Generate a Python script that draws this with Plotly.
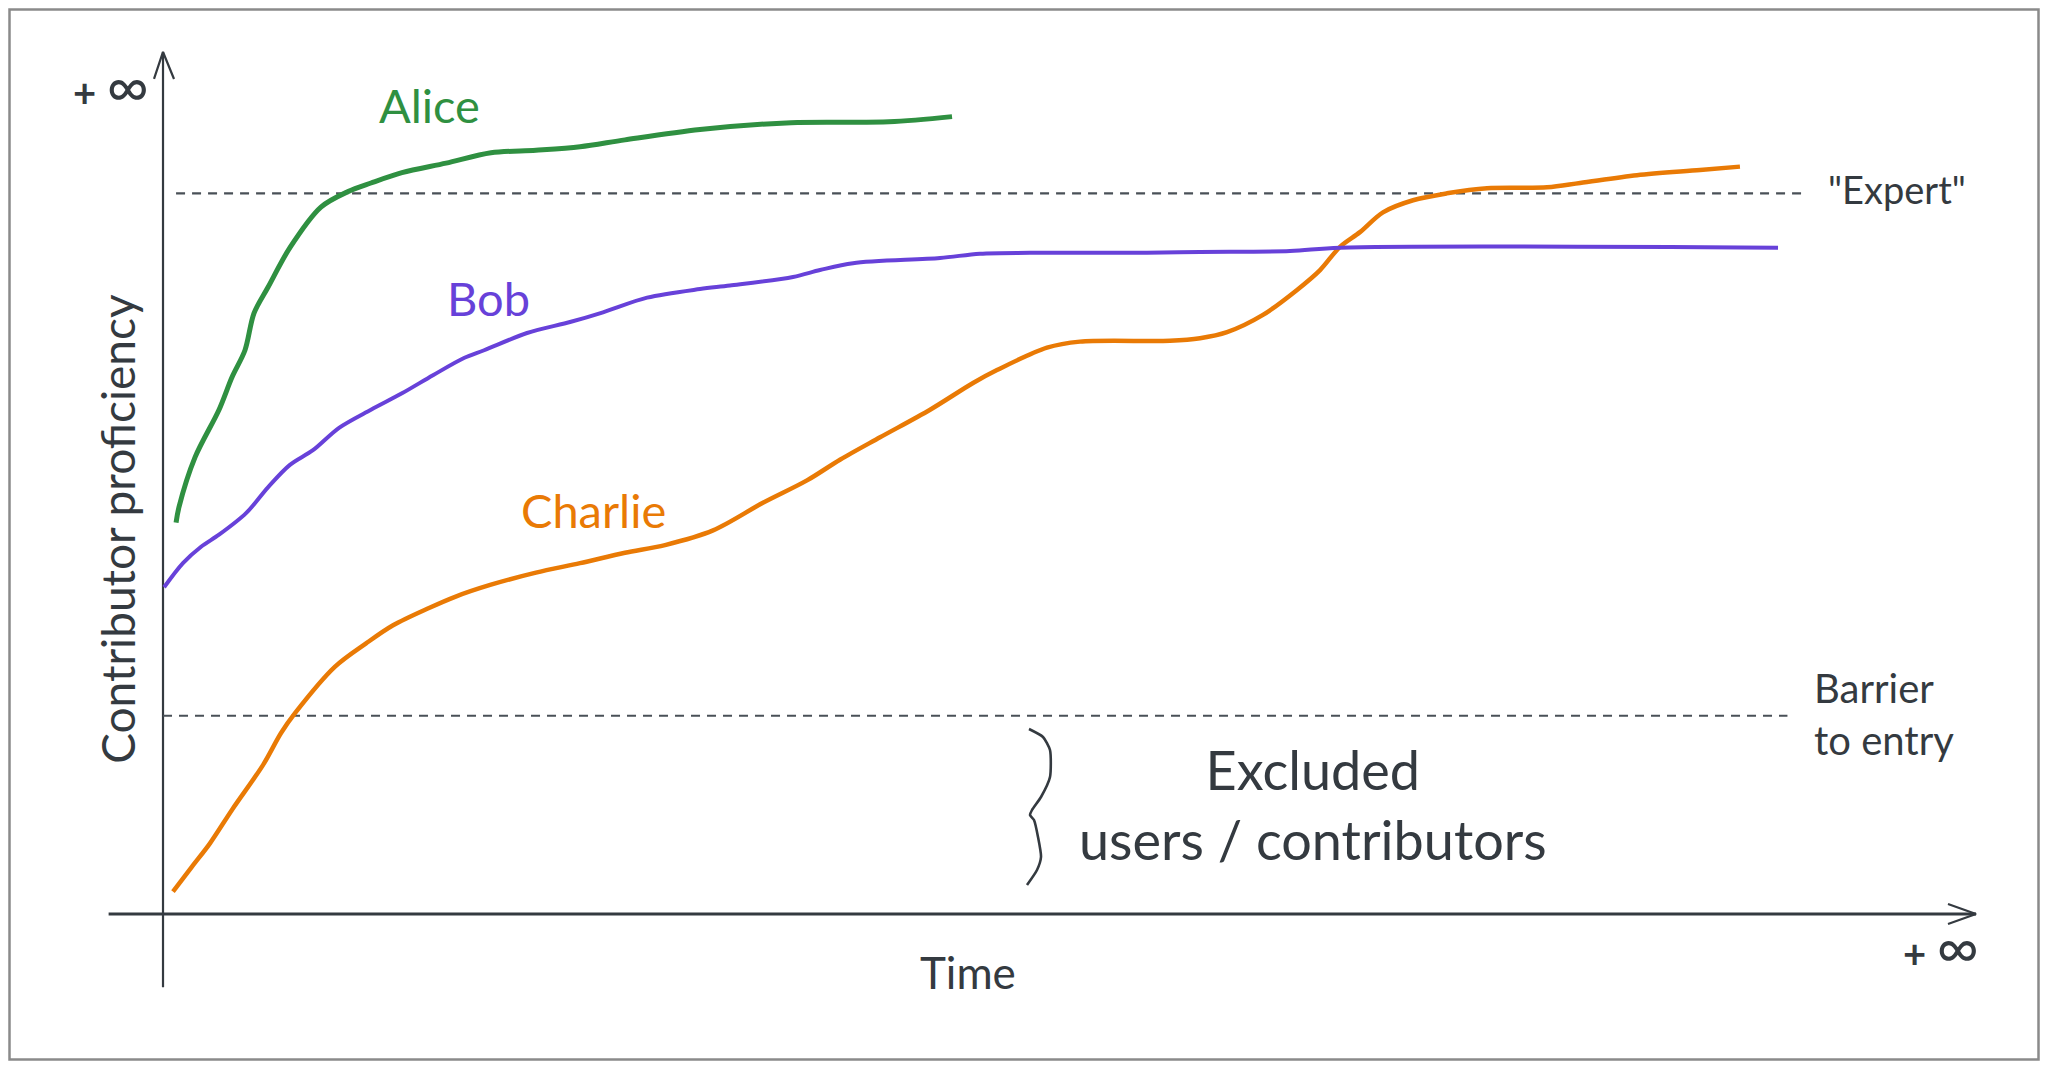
import plotly.graph_objects as go

# ---------------- data (time 0..100 along x, proficiency 0..100 along y) -------------
alice_t = [0.72, 0.88, 1.77, 3.09, 3.81, 4.52, 5.02, 5.79, 7.00, 8.71, 10.20, 11.47, 13.18,
           15.61, 18.09, 20.57, 23.00, 25.48, 29.62, 34.64, 40.04, 43.52]
alice_v = [45.4, 47.2, 53.0, 58.5, 62.3, 65.4, 69.7, 72.7, 77.3, 82.0, 83.8, 84.8, 86.0,
           87.1, 88.3, 88.6, 89.0, 89.8, 91.0, 91.8, 91.9, 92.5]

bob_t = [0.06, 1.10, 2.10, 3.09, 4.58, 5.79, 7.00, 8.27, 9.71, 11.47, 13.18, 14.89, 16.60,
         17.71, 20.08, 22.50, 24.27, 26.70, 29.62, 31.27, 34.75, 36.24, 38.06, 42.86, 45.06,
         47.82, 54.27, 57.20, 62.16, 64.92, 89.08]
bob_v = [37.9, 40.7, 42.6, 44.0, 46.5, 49.5, 52.1, 53.8, 56.4, 58.5, 60.4, 62.5, 64.5,
         65.4, 67.4, 68.7, 69.8, 71.5, 72.5, 72.9, 73.9, 74.7, 75.5, 76.1, 76.6,
         76.7, 76.7, 76.8, 76.9, 77.3, 77.3]

charlie_t = [0.55, 1.60, 2.59, 3.81, 5.52, 6.51, 7.28, 9.49, 11.20, 12.69, 14.67, 16.11,
             18.09, 20.57, 23.00, 25.48, 27.69, 30.34, 33.09, 35.52, 37.34, 39.55, 42.31,
             44.68, 46.00, 48.76, 50.58, 55.54, 57.20, 58.69, 60.67, 62.55, 63.82, 64.92,
             66.02, 67.29, 68.95, 70.82, 73.03, 76.34, 78.16, 81.30, 84.78, 86.98]
charlie_v = [2.6, 5.5, 8.2, 12.1, 17.3, 21.0, 23.3, 28.7, 31.4, 33.5, 35.5, 36.8,
             38.2, 39.6, 40.7, 41.9, 42.8, 44.5, 47.7, 50.3, 52.7, 55.3, 58.5,
             61.6, 63.1, 65.7, 66.4, 66.5, 66.8, 67.5, 69.5, 72.4, 74.7, 77.4,
             79.1, 81.4, 82.8, 83.6, 84.2, 84.3, 84.8, 85.7, 86.3, 86.7]

series_names = ["Alice", "Bob", "Charlie"]
expert_level = 83.6
expert_span = [0.72, 90.7]
barrier_level = 23.0
barrier_span = [0.0, 89.6]

# ---------------- styling ----------------
# page body has an 8px margin; size the figure so the page does not scroll
W, H = 2032, 1053
OFF = 8
XR = [-8.55, 103.53]
YR = [-17.05, 105.10]
PX_T = W / (XR[1] - XR[0])   # px per time unit
PX_V = H / (YR[1] - YR[0])   # px per proficiency unit
INK = "#343a40"
GREEN = "#2f9041"
PURPLE = "#6741d9"
ORANGE = "#e97a05"
FONT = "Lato"

fig = go.Figure()

def seg(x, y, color=INK, width=2.5, dash=None, shape="linear"):
    fig.add_trace(go.Scatter(x=x, y=y, mode="lines", hoverinfo="skip",
                             line=dict(color=color, width=width, dash=dash, shape=shape)))

# axes
seg([-3.0, 100.0], [0, 0], width=3)
seg([0, 0], [-8.5, 100.0], width=2.2)
# arrow heads (open V)
seg([100 - 28 / PX_T, 100, 100 - 28 / PX_T], [10 / PX_V, 0, -10 / PX_V], width=2.2)
seg([-9 / PX_T, 0, 11 / PX_T], [100 - 27 / PX_V, 100, 100 - 27 / PX_V], width=2.2)

# reference dashed lines
seg(expert_span, [expert_level] * 2, color="#495057", width=2.2, dash="9px,7px")
seg(barrier_span, [barrier_level] * 2, color="#495057", width=2.2, dash="9px,7px")

# curves
for t, v, c, w in [(charlie_t, charlie_v, ORANGE, 4.5), (bob_t, bob_v, PURPLE, 4),
                   (alice_t, alice_v, GREEN, 5)]:
    fig.add_trace(go.Scatter(x=t, y=v, mode="lines", hoverinfo="skip",
                             line=dict(color=c, width=w, shape="spline", smoothing=0.9)))

# brace (decoration) in page-pixel positions converted to data units
brace_px = [(1029, 729), (1043, 737), (1050, 750), (1050, 777), (1041, 797), (1032, 810),
            (1030, 815), (1034, 820), (1038, 837), (1041, 857), (1037, 870), (1027, 885)]
bx = [XR[0] + (px - OFF) / PX_T for px, py in brace_px]
by = [YR[1] - (py - OFF) / PX_V for px, py in brace_px]
fig.add_trace(go.Scatter(x=bx, y=by, mode="lines", hoverinfo="skip",
                         line=dict(color=INK, width=2.6, shape="spline", smoothing=0.6)))

def txt(x, y, s, color=INK, size=34, xanchor="center", yanchor="middle", angle=0, align="center"):
    fig.add_annotation(x=x, y=y, text=s, showarrow=False, xanchor=xanchor, yanchor=yanchor,
                       textangle=angle, align=align,
                       font=dict(family=FONT, size=size, color=color))

INF = "<b>+</b> <span style='font-size:58px'>∞</span>"
txt(-2.87, 96.2, INF, size=40)
txt(98.07, -3.6, INF, size=40)
txt(44.4, -6.73, "Time", size=44)
txt(-2.55, 44.66, "Contributor proficiency", size=46, angle=-90)
txt(14.72, 93.85, series_names[0], color=GREEN, size=47)
txt(17.98, 71.46, series_names[1], color=PURPLE, size=47)
txt(23.77, 46.87, series_names[2], color=ORANGE, size=47)
txt(95.64, 84.1, '"Expert"', size=38)
txt(90.96, 23.2, "Barrier<br>to entry", size=40, xanchor="left", align="left")
txt(63.43, 12.76, "Excluded<br>users / contributors", size=54)

fig.update_layout(
    width=W, height=H, margin=dict(l=0, r=0, t=0, b=0),
    paper_bgcolor="white", plot_bgcolor="white", showlegend=False,
    xaxis=dict(range=XR, visible=False, fixedrange=True),
    yaxis=dict(range=YR, visible=False, fixedrange=True),
    shapes=[dict(type="rect", xref="paper", yref="paper",
                 x0=1.5 / W, x1=1 - 1.5 / W, y0=1.5 / H, y1=1 - 1.5 / H,
                 line=dict(color="#8a8a8a", width=2.5), fillcolor="rgba(0,0,0,0)")],
)

fig.write_html("out.html")
